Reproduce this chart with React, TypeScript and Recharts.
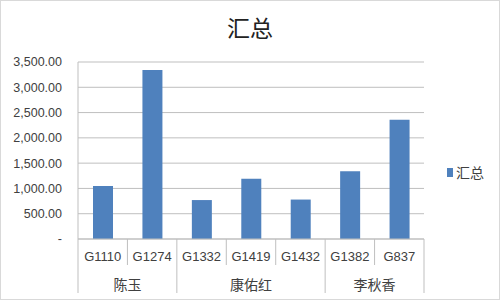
import React from 'react';
import { BarChart, Bar, XAxis, YAxis, CartesianGrid, Legend } from 'recharts';

const codes = ['G1110', 'G1274', 'G1332', 'G1419', 'G1432', 'G1382', 'G837'];
const owners = ['陈玉', '陈玉', '康佑红', '康佑红', '康佑红', '李秋香', '李秋香'];
const totals = [1050, 3340, 770, 1190, 780, 1340, 2360];
const yTicks = [0, 500, 1000, 1500, 2000, 2500, 3000, 3500];
const seriesName = '汇总';

const data = codes.map((code, i) => ({ code, owner: owners[i], [seriesName]: totals[i] }));

const CHART_W = 500;
const CHART_H = 300;
const MARGIN = { top: 62, right: 16, bottom: 6, left: 0 };
const YAXIS_W = 78;
const LEGEND_W = 60;
const GRID = '#bfbfbf';
const TEXT = '#404040';
const FONT = '"Liberation Sans", Arial, "Noto Sans CJK SC", sans-serif';

const fmt = (v: number) =>
  v === 0 ? '-' : v.toLocaleString('en-US', { minimumFractionDigits: 2, maximumFractionDigits: 2 });

// two level category tick: code on first row, owner spanning its group below
const GroupTick = (props: any) => {
  const { x, y, index, visibleTicksCount } = props;
  const n = visibleTicksCount || codes.length;
  const plotW = CHART_W - MARGIN.left - MARGIN.right - YAXIS_W - LEGEND_W;
  const bw = plotW / n;
  const left = x - bw / 2;
  const groupStart = index === 0 || owners[index] !== owners[index - 1];
  let span = 0;
  if (groupStart) {
    while (index + span < owners.length && owners[index + span] === owners[index]) span++;
  }
  return (
    <g>
      <line x1={left} y1={y} x2={left} y2={y + (groupStart ? 54 : 26)} stroke={GRID} />
      {index === n - 1 && <line x1={x + bw / 2} y1={y} x2={x + bw / 2} y2={y + 54} stroke={GRID} />}
      <text x={x} y={y + 22} textAnchor="middle" fill={TEXT} fontSize={13} fontFamily={FONT}>
        {codes[index]}
      </text>
      {groupStart && (
        <text x={left + (span * bw) / 2} y={y + 51} textAnchor="middle" fill={TEXT} fontSize={14}
          fontFamily='"Noto Sans CJK SC", sans-serif'>
          {owners[index]}
        </text>
      )}
    </g>
  );
};

const LegendContent = () => (
  <div style={{ display: 'flex', alignItems: 'center', paddingLeft: 23, whiteSpace: 'nowrap', fontFamily: '"Noto Sans CJK SC", sans-serif', fontSize: 14, color: TEXT }}>
    <span style={{ display: 'inline-block', width: 9, height: 9, background: '#4f81bd', marginRight: 3 }} />
    {seriesName}
  </div>
);

export default function App() {
  return (
    <div style={{ position: 'absolute', left: 0, top: 0, width: CHART_W, height: CHART_H, background: '#fff' }}>
      <div style={{ position: 'absolute', inset: 0, border: '1px solid #d9d9d9', boxSizing: 'border-box', pointerEvents: 'none' }} />
      <div style={{ position: 'absolute', top: 12, left: 0, width: CHART_W, textAlign: 'center', fontFamily: '"Noto Sans CJK SC", sans-serif', fontSize: 23, color: '#222', lineHeight: '30px' }}>
        {seriesName}
      </div>
      <BarChart width={CHART_W} height={CHART_H} data={data} margin={MARGIN} barCategoryGap="0%">
        <CartesianGrid vertical={false} stroke={GRID} />
        <XAxis dataKey="code" interval={0} height={55} tick={<GroupTick />} tickLine={false} tickSize={0}
          tickMargin={0} axisLine={{ stroke: GRID }} />
        <YAxis width={YAXIS_W} domain={[0, 3500]} ticks={yTicks} tickFormatter={fmt} tickLine={false}
          tickMargin={10} axisLine={{ stroke: GRID }} tick={{ fill: TEXT, fontSize: 12.5, fontFamily: FONT }} />
        <Legend layout="vertical" align="right" verticalAlign="middle" width={LEGEND_W}
          wrapperStyle={{ top: 162 }} content={<LegendContent />} />
        <Bar dataKey={seriesName} fill="#4f81bd" barSize={20} isAnimationActive={false} />
      </BarChart>
    </div>
  );
}
